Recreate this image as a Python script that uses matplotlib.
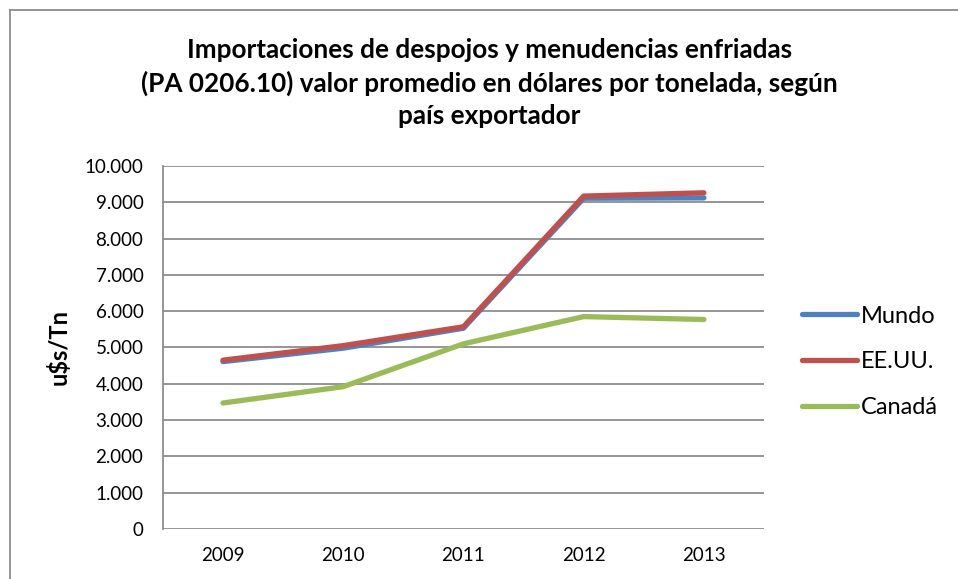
import matplotlib
matplotlib.use("Agg")
import matplotlib.pyplot as plt
from matplotlib.lines import Line2D
from matplotlib.ticker import FuncFormatter

# datos
anios = ["2009", "2010", "2011", "2012", "2013"]
mundo = [4610, 4980, 5530, 9110, 9120]
eeuu = [4650, 5050, 5570, 9170, 9260]
canada = [3470, 3920, 5100, 5850, 5770]

series = [("Mundo", mundo, "#4F81BD"),
          ("EE.UU.", eeuu, "#C0504D"),
          ("Canadá", canada, "#9BBB59")]

plt.rcParams["font.family"] = ["Lato", "DejaVu Sans"]

fig = plt.figure(figsize=(9.58, 5.79), dpi=100)
ax = fig.add_axes([0.170, 0.0864, 0.6275, 0.627])

x = range(len(anios))
for nombre, vals, color in series:
    ax.plot(x, vals, color=color, lw=3.8, label=nombre, solid_capstyle="round")

ax.set_xlim(-0.5, len(anios) - 0.5)
ax.set_ylim(0, 10000)
ax.set_yticks(range(0, 10001, 1000))
ax.yaxis.set_major_formatter(FuncFormatter(lambda v, p: f"{int(v):,}".replace(",", ".")))
ax.set_xticks(list(x))
ax.set_xticklabels(anios)
ax.tick_params(axis="both", length=0, labelsize=13.5, colors="black")
ax.tick_params(axis="x", pad=13)
ax.tick_params(axis="y", pad=14)
ax.grid(axis="y", color="#8c8c8c", lw=1.3)
ax.set_axisbelow(True)
for s in ["top", "right", "bottom"]:
    ax.spines[s].set_visible(False)
ax.spines["left"].set_color("#8c8c8c")
ax.spines["left"].set_linewidth(1.3)

ax.set_ylabel("u$s/Tn", fontsize=17, fontweight="bold")
ax.yaxis.set_label_coords(-0.153, 0.5)

fig.text(0.511, 0.857,
         "Importaciones de despojos y menudencias enfriadas\n"
         "(PA 0206.10) valor promedio en dólares por tonelada, según\n"
         "país exportador",
         ha="center", va="center", fontsize=18.8, fontweight="bold",
         linespacing=1.4)

handles = [Line2D([], [], color=c, lw=3.8, solid_capstyle="round") for _, _, c in series]
fig.legend(handles, [n for n, _, _ in series], loc="center left",
           bbox_to_anchor=(0.815, 0.375), frameon=False, fontsize=17,
           handlelength=2.33, handletextpad=0.17, labelspacing=1.05)

# borde del grafico
fig.add_artist(Line2D([0.0105, 0.0105], [0, 0.983], color="#8c8c8c", lw=1.3, transform=fig.transFigure))
fig.add_artist(Line2D([0.0105, 1], [0.983, 0.983], color="#8c8c8c", lw=1.3, transform=fig.transFigure))

fig.savefig("out.png", dpi=100)
